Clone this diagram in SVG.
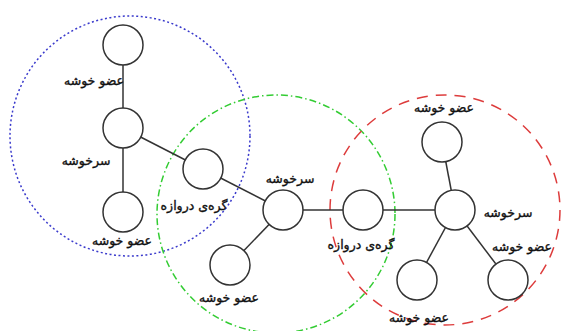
<svg xmlns="http://www.w3.org/2000/svg" width="561" height="331" viewBox="0 0 561 331">
<style>
.n{fill:#fff;stroke:#333;stroke-width:1.5}
.e{stroke:#333;stroke-width:1.5;fill:none}
.t{font-family:"DejaVu Sans",sans-serif;font-size:12.5px;fill:#111;stroke:#111;stroke-width:0.35;text-anchor:middle}
.c{fill:none;stroke-width:1.5}
</style>
<rect width="561" height="331" fill="#fff"/>
<g id="clusters">
<circle class="c" cx="130" cy="136" r="120" stroke="#3a3acc" stroke-dasharray="2 2.5"/>
<circle class="c" cx="276" cy="214" r="119" stroke="#33cc33" stroke-dasharray="7 3 1.5 3"/>
<circle class="c" cx="445" cy="210" r="115" stroke="#dd3c3c" stroke-dasharray="11 8"/>
</g>
<g id="edges">
<line class="e" x1="123" y1="45" x2="123" y2="212"/>
<line class="e" x1="123" y1="128" x2="203" y2="169"/>
<line class="e" x1="203" y1="169" x2="283" y2="210"/>
<line class="e" x1="283" y1="210" x2="230" y2="265"/>
<line class="e" x1="283" y1="210" x2="455" y2="210"/>
<line class="e" x1="455" y1="210" x2="442" y2="142"/>
<line class="e" x1="455" y1="210" x2="417" y2="280"/>
<line class="e" x1="455" y1="210" x2="508" y2="280"/>
</g>
<g id="m1"><circle class="n" cx="123" cy="45" r="20"/><text class="t" x="94" y="85">عضو خوشه</text></g>
<g id="h1"><circle class="n" cx="123" cy="128" r="20"/><text class="t" x="86" y="165">سرخوشه</text></g>
<g id="m2"><circle class="n" cx="123" cy="212" r="20"/><text class="t" x="122" y="245">عضو خوشه</text></g>
<g id="g1"><circle class="n" cx="203" cy="169" r="20"/><text class="t" x="194" y="210">گره‌ی دروازه</text></g>
<g id="h2"><circle class="n" cx="283" cy="210" r="20"/><text class="t" x="290" y="183">سرخوشه</text></g>
<g id="m3"><circle class="n" cx="230" cy="265" r="20"/><text class="t" x="229" y="302">عضو خوشه</text></g>
<g id="g2"><circle class="n" cx="363" cy="210" r="20"/><text class="t" x="361" y="249">گره‌ی دروازه</text></g>
<g id="h3"><circle class="n" cx="455" cy="210" r="20"/><text class="t" x="508" y="217">سرخوشه</text></g>
<g id="m4"><circle class="n" cx="442" cy="142" r="20"/><text class="t" x="444" y="112">عضو خوشه</text></g>
<g id="m5"><circle class="n" cx="417" cy="280" r="20"/><text class="t" x="419" y="322">عضو خوشه</text></g>
<g id="m6"><circle class="n" cx="508" cy="280" r="20"/><text class="t" x="522" y="251">عضو خوشه</text></g>
</svg>
